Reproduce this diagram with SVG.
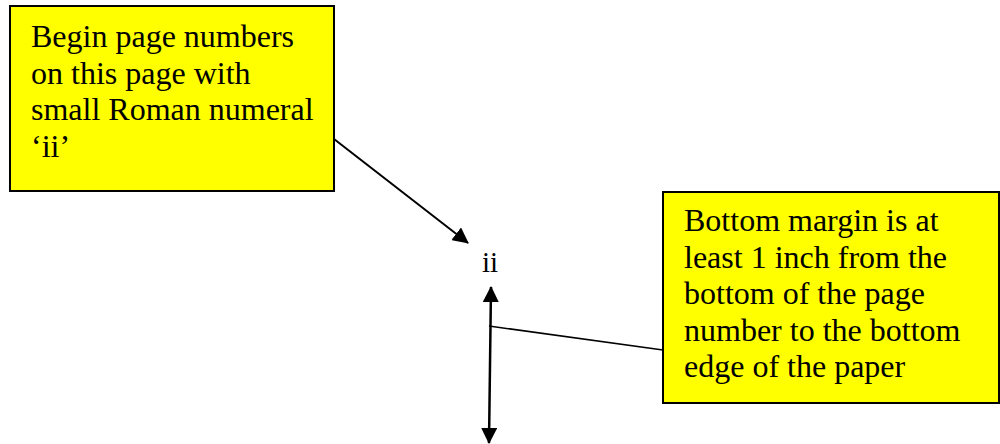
<svg xmlns="http://www.w3.org/2000/svg" width="1000" height="444" viewBox="0 0 1000 444">
<style>
.box{fill:#ffff00;stroke:#000;stroke-width:2}
.t{font-family:"Liberation Serif","Times New Roman",serif;font-size:32px;fill:#000}
.c{stroke:#000;fill:none}
</style>
<defs>
<marker id="ah" viewBox="0 0 16 16" refX="15" refY="8" markerWidth="16" markerHeight="16" markerUnits="userSpaceOnUse" orient="auto-start-reverse">
<path d="M0,0 L16,8 L0,16 z" fill="#000"/>
</marker>
</defs>
<rect width="1000" height="444" fill="#fff"/>
<g id="note-top">
<rect class="box" x="10" y="6" width="324" height="185"/>
<text class="t" x="31" y="47">Begin page numbers</text>
<text class="t" x="31" y="83.5">on this page with</text>
<text class="t" x="31" y="120">small Roman numeral</text>
<text class="t" x="31" y="157">‘ii’</text>
</g>
<g id="note-bottom">
<rect class="box" x="663" y="192" width="336" height="211"/>
<text class="t" x="684" y="231">Bottom margin is at</text>
<text class="t" x="684" y="267.5">least 1 inch from the</text>
<text class="t" x="684" y="304">bottom of the page</text>
<text class="t" x="684" y="340.5">number to the bottom</text>
<text class="t" x="684" y="377">edge of the paper</text>
</g>
<g id="page-number">
<text class="t" x="482" y="272" style="font-size:29px">ii</text>
</g>
<g id="connectors">
<line class="c" x1="334" y1="139" x2="468" y2="243" stroke-width="2" marker-end="url(#ah)"/>
<line class="c" x1="491" y1="287" x2="489" y2="443" stroke-width="2.5" marker-start="url(#ah)" marker-end="url(#ah)"/>
<line class="c" x1="489" y1="326" x2="663" y2="350" stroke-width="1.5"/>
</g>
</svg>
